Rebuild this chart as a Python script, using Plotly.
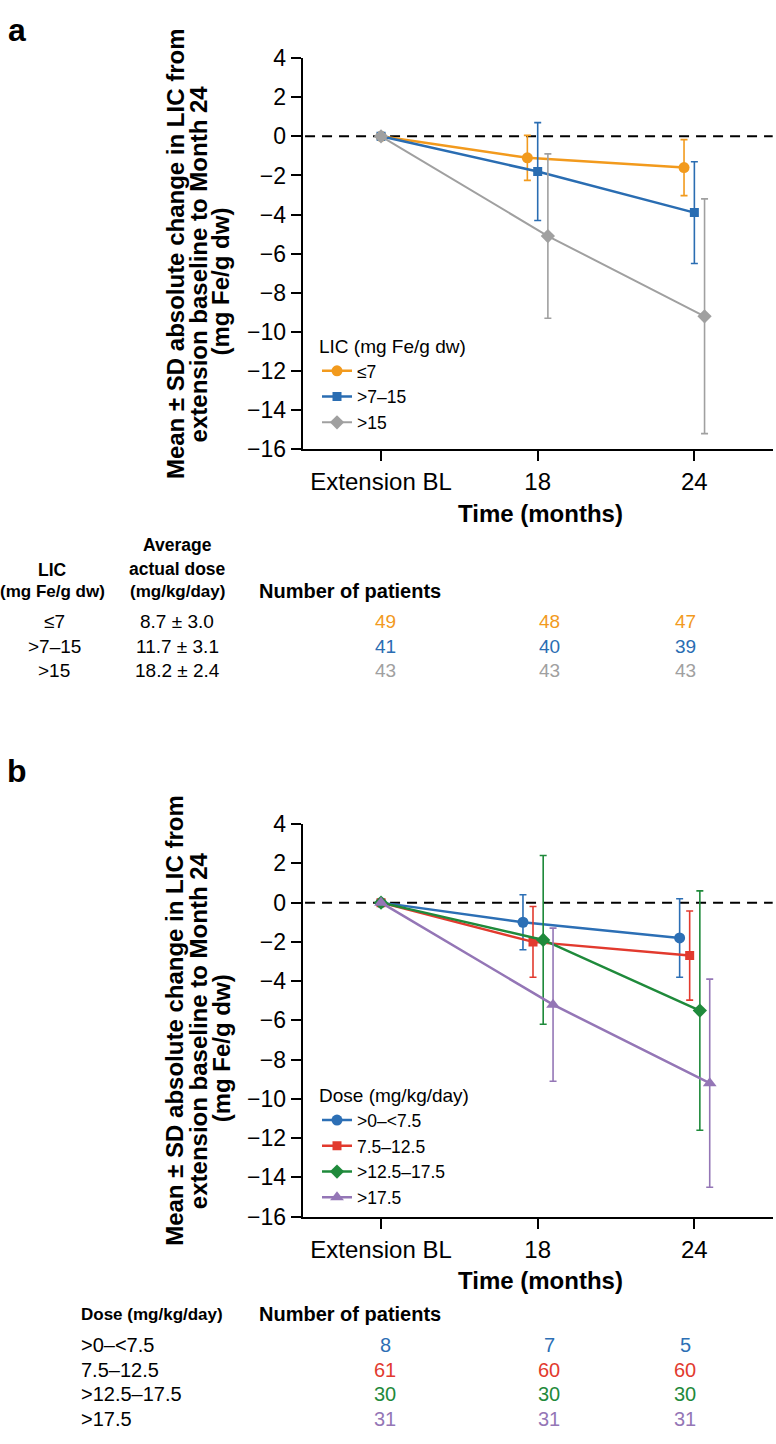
import plotly.graph_objects as go

W, H = 776, 1444

# ---------------- data ----------------
TIME_LABELS = ["Extension BL", "18", "24"]

# Panel a: LIC groups
LIC_NAMES = ["≤7", ">7–15", ">15"]
LIC_LE7_MEAN = [0, -1.1, -1.6]
LIC_LE7_SD = [None, 1.15, 1.43]
LIC_7_15_MEAN = [0, -1.8, -3.9]
LIC_7_15_SD = [None, 2.5, 2.6]
LIC_GT15_MEAN = [0, -5.1, -9.2]
LIC_GT15_SD = [None, 4.2, 6.0]
LIC_DOSE_TEXT = ["8.7 ± 3.0", "11.7 ± 3.1", "18.2 ± 2.4"]
LIC_LE7_N = [49, 48, 47]
LIC_7_15_N = [41, 40, 39]
LIC_GT15_N = [43, 43, 43]

# Panel b: dose groups
DOSE_NAMES = [">0–<7.5", "7.5–12.5", ">12.5–17.5", ">17.5"]
DOSE_LT75_MEAN = [0, -1.0, -1.8]
DOSE_LT75_SD = [None, 1.4, 2.0]
DOSE_75_125_MEAN = [0, -2.0, -2.7]
DOSE_75_125_SD = [None, 1.8, 2.27]
DOSE_125_175_MEAN = [0, -1.9, -5.5]
DOSE_125_175_SD = [None, 4.3, 6.1]
DOSE_GT175_MEAN = [0, -5.2, -9.2]
DOSE_GT175_SD = [None, 3.9, 5.3]
DOSE_LT75_N = [8, 7, 5]
DOSE_75_125_N = [61, 60, 60]
DOSE_125_175_N = [30, 30, 30]
DOSE_GT175_N = [31, 31, 31]

# ---------------- styles ----------------
FONT = "Liberation Sans, Arial, Helvetica, sans-serif"
ORANGE, BLUE, GRAY = "#F29A1D", "#2A6DB2", "#A0A0A0"
BLUE_B, RED, GREEN, PURPLE = "#2C6FB5", "#E23A2E", "#1F8A3B", "#9476B6"

# horizontal dodge of each series at months 18/24 (category units)
LIC_DODGE = [-0.066, 0.0, 0.065]
DOSE_DODGE = [-0.094, -0.03, 0.035, 0.098]


def px_x(p):
    return p / W


def px_y(p):
    return 1 - p / H


fig = go.Figure()


def dodge_x(d):
    return [i + (d if i > 0 else 0) for i in range(len(TIME_LABELS))]


lic_series = [
    (LIC_NAMES[0], LIC_LE7_MEAN, LIC_LE7_SD, ORANGE, "circle", 11, 2.5),
    (LIC_NAMES[1], LIC_7_15_MEAN, LIC_7_15_SD, BLUE, "square", 9, 2.5),
    (LIC_NAMES[2], LIC_GT15_MEAN, LIC_GT15_SD, GRAY, "diamond", 11, 2),
]
for k, (name, m, sd, col, sym, ms, lw) in enumerate(lic_series):
    fig.add_trace(go.Scatter(
        x=dodge_x(LIC_DODGE[k]), y=m, name=name, mode="lines+markers",
        line=dict(color=col, width=lw),
        marker=dict(color=col, symbol=sym, size=ms),
        error_y=dict(type="data", array=sd, visible=True, color=col,
                     thickness=1.6, width=3.5),
        xaxis="x", yaxis="y", legend="legend",
    ))

dose_series = [
    (DOSE_NAMES[0], DOSE_LT75_MEAN, DOSE_LT75_SD, BLUE_B, "circle", 11),
    (DOSE_NAMES[1], DOSE_75_125_MEAN, DOSE_75_125_SD, RED, "square", 9),
    (DOSE_NAMES[2], DOSE_125_175_MEAN, DOSE_125_175_SD, GREEN, "diamond", 11),
    (DOSE_NAMES[3], DOSE_GT175_MEAN, DOSE_GT175_SD, PURPLE, "triangle-up", 12),
]
for k, (name, m, sd, col, sym, ms) in enumerate(dose_series):
    fig.add_trace(go.Scatter(
        x=dodge_x(DOSE_DODGE[k]), y=m, name=name, mode="lines+markers",
        line=dict(color=col, width=2.5),
        marker=dict(color=col, symbol=sym, size=ms),
        error_y=dict(type="data", array=sd, visible=True, color=col,
                     thickness=1.6, width=3.5),
        xaxis="x2", yaxis="y2", legend="legend2",
    ))

xdom = [px_x(302.7), px_x(772.7)]
xa = dict(range=[-0.5, 2.5], tickmode="array", tickvals=[0, 1, 2], ticktext=TIME_LABELS,
          showline=True, linecolor="black", linewidth=2.2, ticks="outside", ticklen=10,
          tickwidth=2, tickcolor="black", showgrid=False, zeroline=False,
          tickfont=dict(family=FONT, size=24, color="black"), domain=xdom)
ya = dict(range=[-16, 4], tickmode="array", tickvals=list(range(-16, 5, 2)),
          showline=True, linecolor="black", linewidth=2.2, ticks="outside", ticklen=10,
          tickwidth=2, tickcolor="black", showgrid=False, zeroline=False,
          tickfont=dict(family=FONT, size=23, color="black"))

leg_common = dict(xanchor="left", yanchor="top", bgcolor="rgba(0,0,0,0)",
                  tracegroupgap=0, font=dict(family=FONT, size=17.5, color="black"))

fig.update_layout(
    width=W, height=H, autosize=False,
    margin=dict(l=0, r=0, t=0, b=0),
    paper_bgcolor="white", plot_bgcolor="white",
    xaxis=dict(xa, anchor="y"),
    yaxis=dict(ya, anchor="x", domain=[px_y(444.3), px_y(45.9)]),
    xaxis2=dict(xa, anchor="y2"),
    yaxis2=dict(ya, anchor="x2", domain=[px_y(1225.7), px_y(826)]),
    legend=dict(leg_common, x=px_x(317), y=px_y(321),
                title=dict(text="LIC (mg Fe/g dw)",
                           font=dict(family=FONT, size=19, color="black"))),
    legend2=dict(leg_common, x=px_x(317), y=px_y(1084),
                 title=dict(text="Dose (mg/kg/day)",
                            font=dict(family=FONT, size=19, color="black"))),
    showlegend=True,
)

# dashed zero reference lines
for xr, yr in (("x domain", "y"), ("x2 domain", "y2")):
    fig.add_shape(type="line", xref=xr, yref=yr, x0=0.005, x1=1, y0=0, y1=0,
                  line=dict(color="black", width=2, dash="10px,7px"), layer="below")


def ann(text, x, y, size=20, bold=False, color="black", xanchor="center", angle=0):
    if bold:
        text = "<b>" + text + "</b>"
    fig.add_annotation(text=text, x=x, y=y, xref="paper", yref="paper",
                       xanchor=xanchor, yanchor="middle", showarrow=False,
                       textangle=angle, borderpad=0,
                       font=dict(family=FONT, size=size, color=color))


PANEL_SHIFT = 780.8
YTITLE = ["Mean ± SD absolute change in LIC from",
          "extension baseline to Month 24",
          "(mg Fe/g dw)"]
YTITLE_POS = [(175, 245.5), (198, 256), (221, 273.5)]

ann("a", px_x(17), px_y(17), size=32, bold=True)
ann("b", px_x(17), px_y(772), size=32, bold=True)
for shift in (0, PANEL_SHIFT):
    for line, (lx, ly) in zip(YTITLE, YTITLE_POS):
        ann(line, px_x(lx), px_y(ly + shift), size=24, bold=True, angle=-90)
    ann("Time (months)", px_x(540), px_y(510 + shift), size=24, bold=True)

# ---------------- table a ----------------
COUNT_X = [385, 549, 685]
ann("Average", px_x(177), px_y(541.7), size=17.5, bold=True)
ann("LIC", px_x(52), px_y(567), size=17.5, bold=True)
ann("actual dose", px_x(177), px_y(566), size=17.5, bold=True)
ann("(mg Fe/g dw)", px_x(53), px_y(589), size=17, bold=True)
ann("(mg/kg/day)", px_x(177), px_y(589), size=17, bold=True)
ann("Number of patients", px_x(258), px_y(589), size=20, bold=True, xanchor="left")
lic_counts = [LIC_LE7_N, LIC_7_15_N, LIC_GT15_N]
lic_cols = [ORANGE, BLUE, GRAY]
for r, yy in enumerate([620, 645.5, 670]):
    ann(LIC_NAMES[r], px_x(54), px_y(yy), size=19)
    ann(LIC_DOSE_TEXT[r], px_x(177), px_y(yy), size=19)
    for c, n in enumerate(lic_counts[r]):
        ann(str(n), px_x(COUNT_X[c]), px_y(yy), size=19, color=lic_cols[r])

# ---------------- table b ----------------
ann("Dose (mg/kg/day)", px_x(80), px_y(1325), size=17, bold=True, xanchor="left")
ann("Number of patients", px_x(258), px_y(1325), size=20, bold=True, xanchor="left")
dose_counts = [DOSE_LT75_N, DOSE_75_125_N, DOSE_125_175_N, DOSE_GT175_N]
dose_cols = [BLUE_B, RED, GREEN, PURPLE]
for r, yy in enumerate([1356, 1381.5, 1406.7, 1432]):
    ann(DOSE_NAMES[r], px_x(80), px_y(yy), size=20, xanchor="left")
    for c, n in enumerate(dose_counts[r]):
        ann(str(n), px_x(COUNT_X[c]), px_y(yy), size=20, color=dose_cols[r])

fig.write_html(
    "out.html",
    config={"displayModeBar": False},
    post_script="document.body.style.margin='0';document.body.style.overflow='hidden';",
)
